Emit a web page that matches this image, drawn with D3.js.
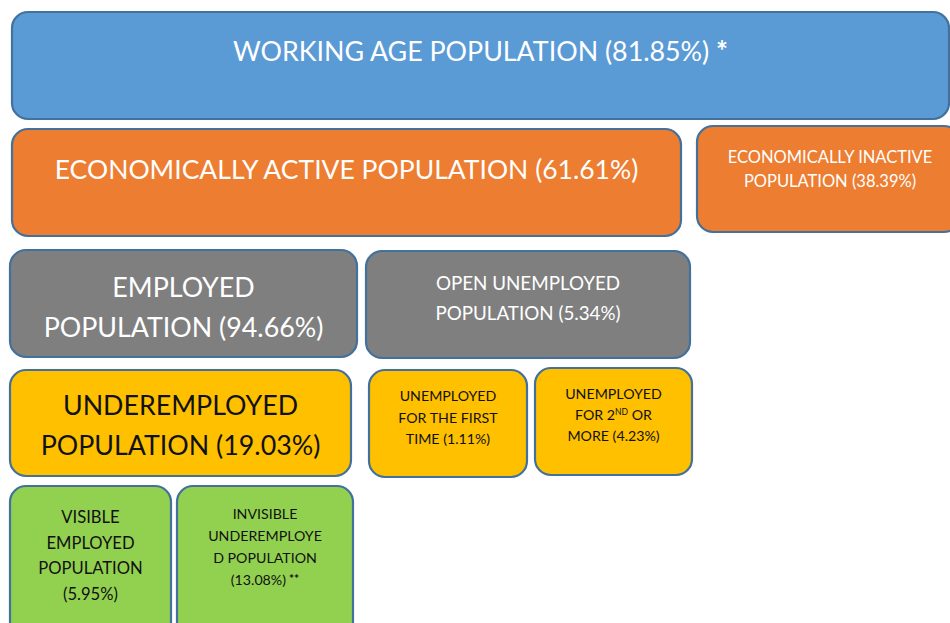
<!DOCTYPE html>
<html>
<head>
<meta charset="utf-8">
<script src="https://cdn.jsdelivr.net/npm/d3@7"></script>
<style>
  body { margin: 0; background: #fff; }
  svg { display: block; }
  text { font-family: Lato, "Open Sans", sans-serif; }
</style>
</head>
<body>
<div class="board"></div>
<script>
// categories and values
var names = [
  'WORKING AGE POPULATION',
  'ECONOMICALLY ACTIVE POPULATION',
  'ECONOMICALLY INACTIVE POPULATION',
  'EMPLOYED POPULATION',
  'OPEN UNEMPLOYED POPULATION',
  'UNDEREMPLOYED POPULATION',
  'UNEMPLOYED FOR THE FIRST TIME',
  'UNEMPLOYED FOR 2ND OR MORE',
  'VISIBLE EMPLOYED POPULATION',
  'INVISIBLE UNDEREMPLOYED POPULATION'
];
var values = [81.85, 61.61, 38.39, 94.66, 5.34, 19.03, 1.11, 4.23, 5.95, 13.08];
var notes = [' *', '', '', '', '', '', '', '', '', ' **'];
var levels = [0, 1, 1, 2, 2, 3, 3, 3, 4, 4];

// how each label is broken into lines ({v} = value)
var lineSplits = [
  ['WORKING AGE POPULATION ({v})*'],
  ['ECONOMICALLY ACTIVE POPULATION ({v})'],
  ['ECONOMICALLY INACTIVE', 'POPULATION ({v})'],
  ['EMPLOYED', 'POPULATION ({v})'],
  ['OPEN UNEMPLOYED', 'POPULATION ({v})'],
  ['UNDEREMPLOYED', 'POPULATION ({v})'],
  ['UNEMPLOYED', 'FOR THE FIRST', 'TIME ({v})'],
  ['UNEMPLOYED', 'FOR 2^ND OR', 'MORE ({v})'],
  ['VISIBLE', 'EMPLOYED', 'POPULATION', '({v})'],
  ['INVISIBLE', 'UNDEREMPLOYE', 'D POPULATION', '({v})*']
];

// box layout (pixels) and styles
var layout = [
  {x0: 12, x1: 949, y0: 12, y1: 119, fs: 26.8, lh: 0, ty: 61},
  {x0: 12, x1: 681, y0: 129, y1: 236, fs: 26.5, lh: 0, ty: 179},
  {x0: 697, x1: 960, y0: 126, y1: 232, fs: 16.5, lh: 24, ty: 163, cx: 830},
  {x0: 10, x1: 357, y0: 250, y1: 357, fs: 26.8, lh: 40, ty: 297},
  {x0: 366, x1: 690, y0: 251, y1: 358, fs: 18.8, lh: 30, ty: 290},
  {x0: 10, x1: 351, y0: 370, y1: 476, fs: 26.8, lh: 40, ty: 415},
  {x0: 369, x1: 527, y0: 370, y1: 477, fs: 14.2, lh: 21.5, ty: 401},
  {x0: 535, x1: 692, y0: 368, y1: 475, fs: 14.2, lh: 21, ty: 399},
  {x0: 10, x1: 171, y0: 486, y1: 640, fs: 16.6, lh: 25.7, ty: 523},
  {x0: 177, x1: 353, y0: 486, y1: 640, fs: 14.2, lh: 22, ty: 519}
];
var fills = ['#5b9bd5', '#ed7d31', '#7f7f7f', '#ffc000', '#92d050'];
var textColors = ['#ffffff', '#ffffff', '#ffffff', '#111111', '#111111'];

var width = 950, height = 623;

var svg = d3.select('.board').append('svg')
  .attr('width', width)
  .attr('height', height);

var colour = d3.scaleOrdinal().domain([0, 1, 2, 3, 4]).range(fills);
var ink = d3.scaleOrdinal().domain([0, 1, 2, 3, 4]).range(textColors);

var data = names.map(function(n, i) {
  return {name: n, value: values[i], level: levels[i], box: layout[i], lines: lineSplits[i], note: notes[i]};
});

var boxes = svg.selectAll('.box').data(data).enter().append('g')
  .attr('class', 'box');

boxes.append('rect')
  .attr('x', function(d) { return d.box.x0; })
  .attr('y', function(d) { return d.box.y0; })
  .attr('width', function(d) { return d.box.x1 - d.box.x0; })
  .attr('height', function(d) { return d.box.y1 - d.box.y0; })
  .attr('rx', 16)
  .attr('ry', 16)
  .attr('fill', function(d) { return colour(d.level); })
  .attr('stroke', '#41719c')
  .attr('stroke-width', 2.2);

var fmt = d3.format('.2f');

boxes.each(function(d) {
  var g = d3.select(this);
  var cx = d.box.cx || (d.box.x0 + d.box.x1) / 2;
  d.lines.forEach(function(line, j) {
    var txt = line.replace('{v}', fmt(d.value) + '%');
    var star = false;
    if (txt.charAt(txt.length - 1) === '*') { txt = txt.slice(0, -1); star = true; }
    var t = g.append('text')
      .attr('x', cx)
      .attr('y', d.box.ty + j * d.box.lh)
      .attr('text-anchor', 'middle')
      .attr('fill', ink(d.level))
      .style('font-size', d.box.fs + 'px');
    if (txt.indexOf('^') >= 0) {
      var parts = txt.split('^');
      t.append('tspan').text(parts[0]);
      var rest = parts[1].split(' ');
      t.append('tspan').attr('dy', -5).style('font-size', (d.box.fs * 0.6) + 'px').text(rest[0]);
      t.append('tspan').attr('dy', 5).text(' ' + rest.slice(1).join(' '));
    } else {
      t.text(txt);
    }
    if (star) {
      var two = d.note === ' **';
      t.append('tspan')
        .style('font-size', (two ? d.box.fs * 0.85 : d.box.fs * 1.05) + 'px')
        .style('font-weight', 'bold')
        .attr('dy', two ? -2 : 0)
        .text(d.note);
    }
  });
});
</script>
</body>
</html>
